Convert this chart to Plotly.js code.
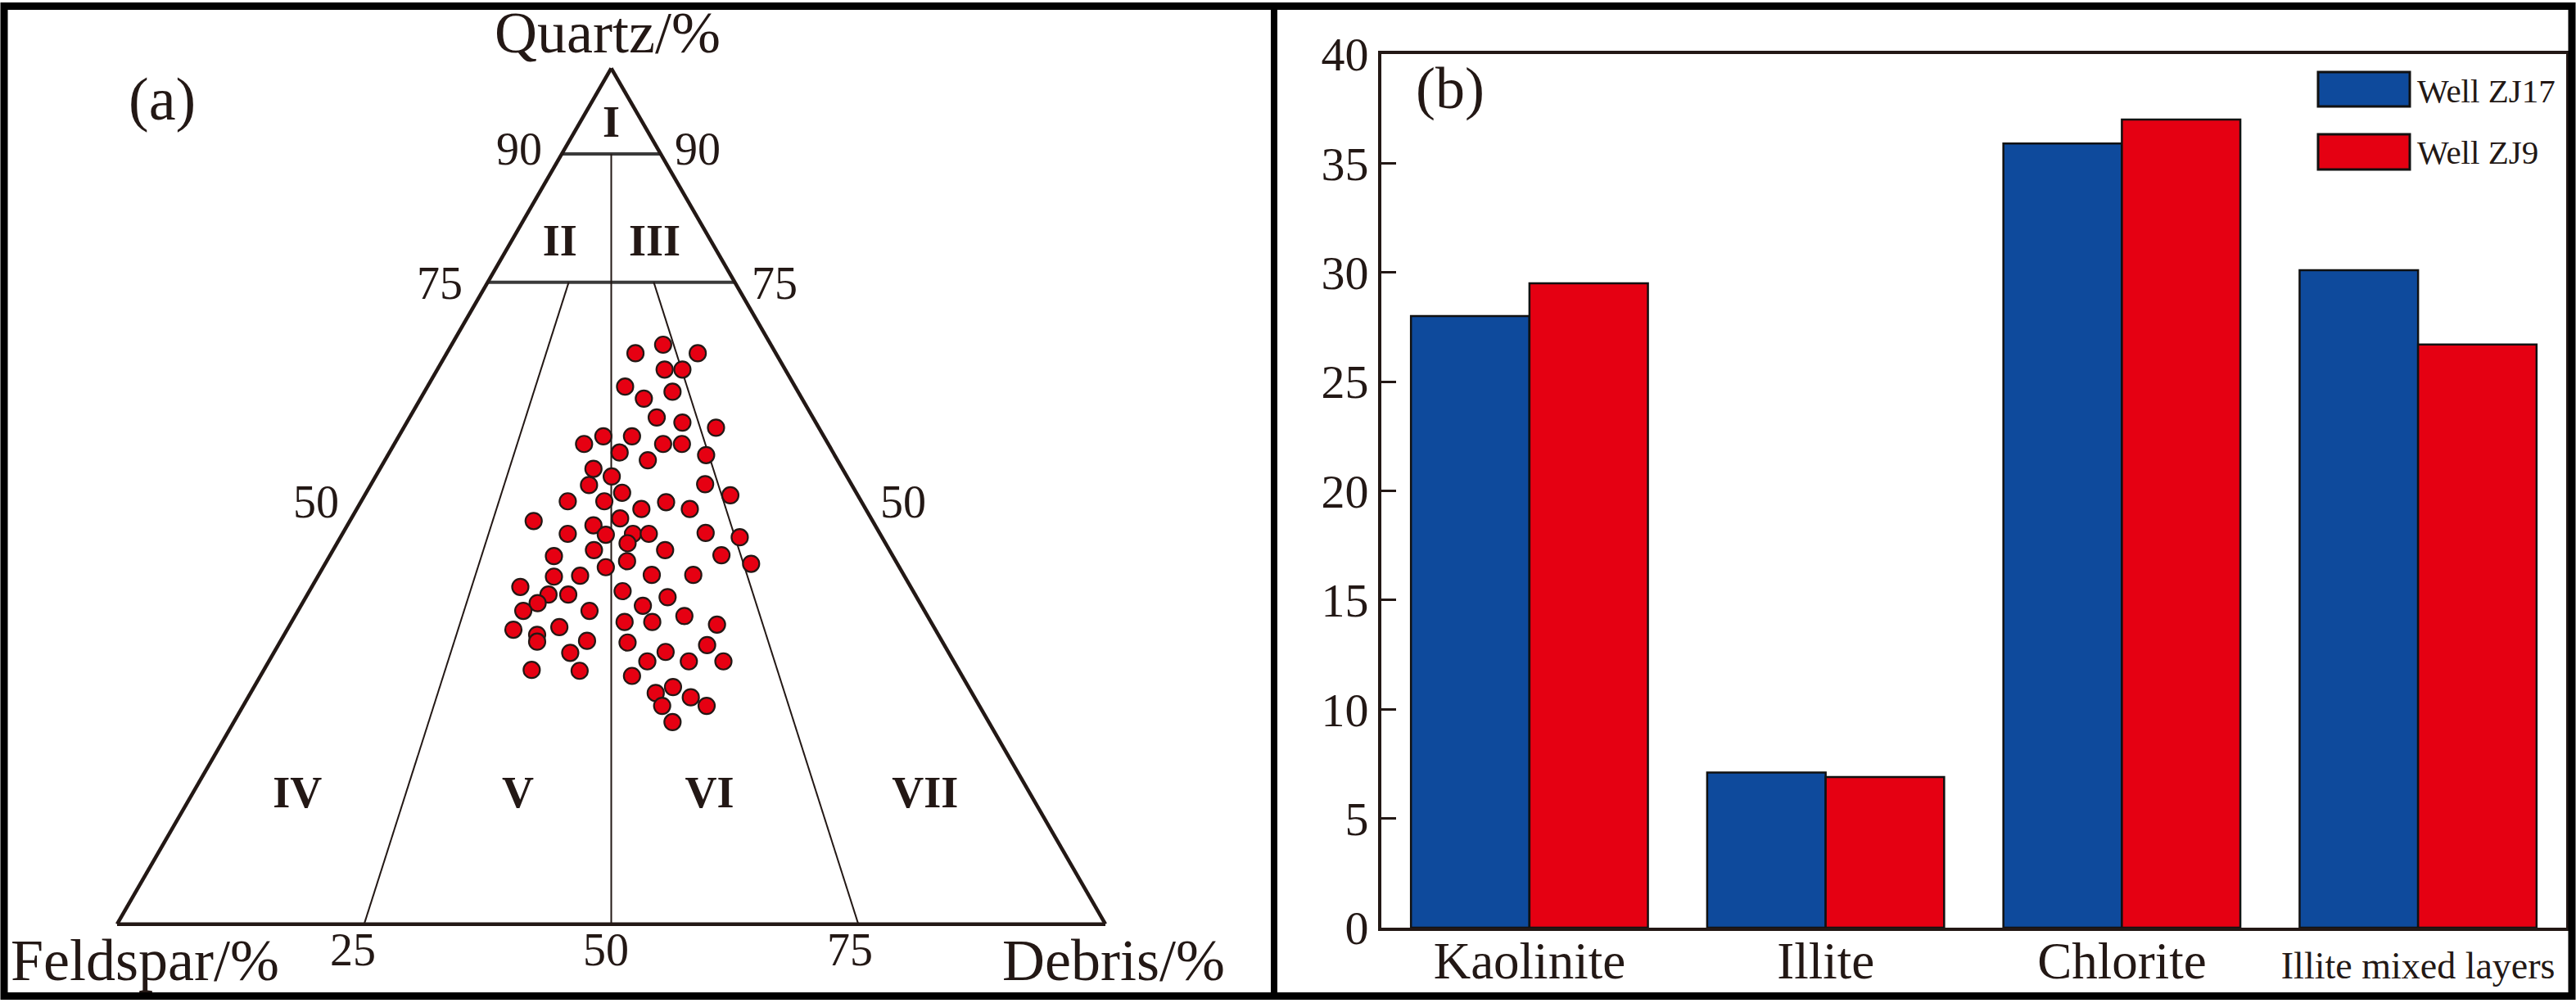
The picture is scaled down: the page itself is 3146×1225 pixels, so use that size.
<!DOCTYPE html>
<html><head><meta charset="utf-8">
<script src="https://cdn.plot.ly/plotly-3.0.1.min.js"></script>
<style>html,body{margin:0;padding:0;background:#fff}</style>
</head><body>
<div id="chart" style="width:3146px;height:1225px"></div>
<script>
// ---- Panel (a): ternary data (percent) ----
const quartz   = [66.7,67.7,66.7,64.8,64.8,62.8,62.2,61.4,59.2,58.6,58.0,57.0,56.1,57.0,56.1,56.1,55.1,54.2,54.8,53.2,52.3,51.3,50.4,51.4,50.1,49.4,49.4,49.3,48.5,48.5,47.1,47.4,46.6,45.6,45.5,45.6,45.6,44.5,45.7,45.2,43.7,43.7,43.0,43.1,42.4,42.1,41.7,40.7,40.6,40.8,40.8,39.4,38.5,38.5,37.5,38.9,38.2,36.6,36.6,37.2,34.4,34.7,33.8,33.0,35.3,35.3,36.0,35.0,33.1,32.9,32.6,31.7,31.8,30.7,30.7,30.7,29.7,29.6,29.0,27.7,27.0,26.5,25.5,25.5,23.6];
const feldspar = [14.2,10.9,7.9,12.2,10.4,17.2,12.7,16.0,15.8,13.5,10.4,22.3,24.7,19.4,16.7,14.8,21.6,19.2,13.0,25.2,23.8,26.6,23.7,14.8,12.9,29.7,26.0,19.8,22.7,17.8,34.3,25.4,28.5,31.6,27.8,25.0,23.4,26.1,17.6,14.4,29.9,22.7,34.3,17.3,27.2,14.8,29.7,32.8,35.5,25.5,21.3,39.5,37.1,35.1,38.7,29.4,25.2,40.6,33.9,28.2,42.7,37.9,40.6,41.0,31.0,28.2,24.6,21.8,35.9,31.9,24.0,38.3,28.6,31.0,26.8,23.3,43.2,38.4,33.4,29.9,32.0,28.7,27.6,32.1,32.0];
const debris   = quartz.map((q, i) => +(100 - q - feldspar[i]).toFixed(1));

// classification boundaries (start/end of each segment)
const boundaryQuartz   = [[90, 90], [75, 75], [90, 0], [75, 0], [75, 0]];
const boundaryFeldspar = [[10, 0], [25, 0], [5, 50], [16.8, 75], [8.2, 25]];
const boundaryDebris   = [[0, 10], [0, 25], [5, 50], [8.2, 25], [16.8, 75]];

// region labels
const regionNames    = ['I', 'II', 'III', 'IV', 'V', 'VI', 'VII'];
const regionQuartz   = [93.3, 79.4, 79.4, 14.9, 14.9, 14.9, 14.9];
const regionFeldspar = [3.35, 15.5, 5.9, 74.3, 52.0, 32.6, 10.8];
const regionDebris   = regionQuartz.map((q, i) => +(100 - q - regionFeldspar[i]).toFixed(2));

// tick labels of panel (a): left side (quartz), right side, base
const leftTickText  = ['90', '75', '50'];
const rightTickText = ['90', '75', '50'];
const baseTickText  = ['25', '50', '75'];

// ---- Panel (b): clay minerals ----
const minerals = ['Kaolinite', 'Illite', 'Chlorite', 'Illite mixed layers'];
const wellZJ17 = [28.0, 7.1, 35.9, 30.1];
const wellZJ9  = [29.5, 6.9, 37.0, 26.7];
const seriesNames = ['Well ZJ17', 'Well ZJ9'];

// ---- styling ----
const W = 3146, H = 1225;
const px = x => x / W;
const py = y => 1 - y / H;
const FONT = 'Liberation Serif, Times New Roman, serif';
const INK = '#231815';
const BLUE = '#0E4A9C';
const RED = '#E50012';

const traces = [];
const bWidths = [4, 4, 2, 2, 2];
const bColors = ['#3a3a3a', '#3a3a3a', INK, INK, INK];
boundaryQuartz.forEach((a, i) => {
  traces.push({
    type: 'scatterternary', mode: 'lines', subplot: 'ternary',
    a: a, b: boundaryFeldspar[i], c: boundaryDebris[i],
    line: {color: bColors[i], width: bWidths[i]},
    showlegend: false, hoverinfo: 'skip'
  });
});
traces.push({
  type: 'scatterternary', mode: 'markers', subplot: 'ternary',
  a: quartz, b: feldspar, c: debris,
  marker: {size: 20, color: '#E60012', line: {color: INK, width: 2.2}},
  showlegend: false
});
traces.push({
  type: 'scatterternary', mode: 'text', subplot: 'ternary',
  a: regionQuartz, b: regionFeldspar, c: regionDebris,
  text: regionNames, textposition: 'middle center',
  textfont: {family: FONT, size: 54, color: INK, weight: 'bold'},
  showlegend: false, hoverinfo: 'skip'
});

const tickLabels = minerals.map(m => m === 'Illite mixed layers'
  ? '<span style="font-size:46px">' + m + '</span>' : m);

traces.push({
  type: 'bar', x: minerals, y: wellZJ17, name: seriesNames[0],
  xaxis: 'x', yaxis: 'y',
  marker: {color: BLUE, line: {color: '#111', width: 2.5}}, showlegend: false
});
traces.push({
  type: 'bar', x: minerals, y: wellZJ9, name: seriesNames[1],
  xaxis: 'x', yaxis: 'y',
  marker: {color: RED, line: {color: '#111', width: 2.5}}, showlegend: false
});

const ternAxis = () => ({
  min: 0, showgrid: false, showline: true, linecolor: INK, linewidth: 4.5,
  ticks: '', showticklabels: false, title: {text: ''}
});

const ann = (text, x, y, size, extra) => Object.assign({
  text: text, x: px(x), y: py(y), xref: 'paper', yref: 'paper', showarrow: false,
  xanchor: 'center', yanchor: 'middle',
  font: {family: FONT, size: size, color: INK}
}, extra || {});

// positions of panel (a) side/base labels (layout only)
const leftTickPos  = [[634, 182], [537, 346], [386, 613]];
const rightTickPos = [[852, 182], [946, 346], [1103, 613]];
const baseTickPos  = [[431, 1160], [740, 1160], [1038, 1160]];

const annotations = [
  ann('(a)', 198, 121, 74),
  ann('(b)', 1771, 108, 72),
  ann('Quartz/%', 742, 40, 72),
  ann('Feldspar/%', 177, 1173, 72),
  ann('Debris/%', 1360, 1173, 72),
  ann(seriesNames[0], 2950, 111, 41, {xanchor: 'left'}),
  ann(seriesNames[1], 2950, 186, 41, {xanchor: 'left'})
];
leftTickText.forEach((t, i) => annotations.push(ann(t, leftTickPos[i][0], leftTickPos[i][1], 56)));
rightTickText.forEach((t, i) => annotations.push(ann(t, rightTickPos[i][0], rightTickPos[i][1], 56)));
baseTickText.forEach((t, i) => annotations.push(ann(t, baseTickPos[i][0], baseTickPos[i][1], 56)));

const layout = {
  width: W, height: H,
  margin: {l: 0, r: 0, t: 0, b: 0},
  paper_bgcolor: '#fff', plot_bgcolor: '#fff',
  font: {family: FONT, color: INK},
  showlegend: false,
  ternary: {
    sum: 100,
    domain: {x: [px(143), px(1350)], y: [py(1129), py(83)]},
    bgcolor: '#fff',
    aaxis: ternAxis(), baxis: ternAxis(), caxis: ternAxis()
  },
  barmode: 'group', bargap: 0.2, bargroupgap: 0,
  xaxis: {
    domain: [px(1687), px(3134)], range: [-0.5, 3.5], type: 'category',
    showline: true, linecolor: INK, linewidth: 4, mirror: true,
    ticks: '', tickmode: 'array', tickvals: minerals, ticktext: tickLabels,
    ticklabelstandoff: -18,
    tickfont: {family: FONT, size: 63, color: INK}, showgrid: false, zeroline: false
  },
  yaxis: {
    domain: [py(1133), py(66)], range: [0, 40], dtick: 5,
    showline: true, linecolor: INK, linewidth: 4, mirror: true,
    ticks: 'inside', ticklen: 18, tickwidth: 3, tickcolor: INK,
    tickfont: {family: FONT, size: 58, color: INK}, showgrid: false, zeroline: false
  },
  shapes: [
    {type: 'rect', xref: 'paper', yref: 'paper', x0: px(5), x1: px(3141), y0: py(1216.5), y1: py(7.5),
     line: {color: '#000', width: 9}},
    {type: 'line', xref: 'paper', yref: 'paper', x0: px(1556), x1: px(1556), y0: py(1216.5), y1: py(7.5),
     line: {color: '#000', width: 8}},
    {type: 'rect', xref: 'paper', yref: 'paper', x0: px(2831), x1: px(2943), y0: py(130), y1: py(88),
     fillcolor: BLUE, line: {color: '#111', width: 3}},
    {type: 'rect', xref: 'paper', yref: 'paper', x0: px(2831), x1: px(2943), y0: py(207), y1: py(164),
     fillcolor: RED, line: {color: '#111', width: 3}}
  ],
  annotations: annotations
};

Plotly.newPlot('chart', traces, layout, {staticPlot: true, displayModeBar: false});
</script>
</body></html>
